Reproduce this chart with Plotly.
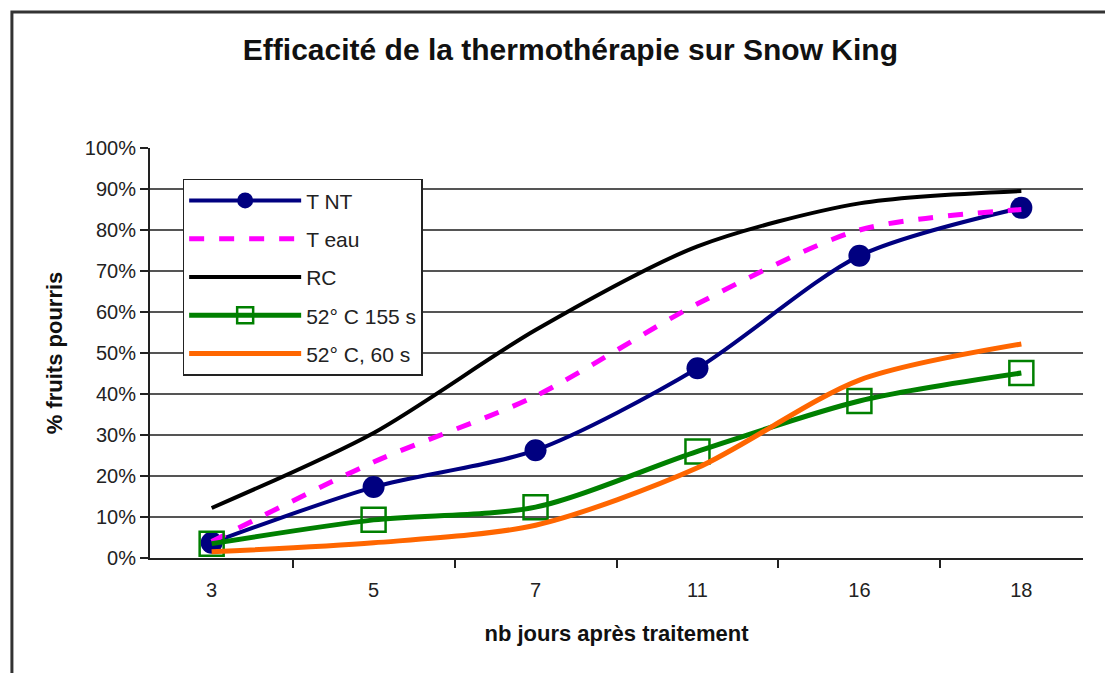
import plotly.graph_objects as go

days = ["3", "5", "7", "11", "16", "18"]
t_nt = [0.037, 0.173, 0.263, 0.463, 0.737, 0.854]
t_eau = [0.04, 0.234, 0.395, 0.62, 0.80, 0.85]
rc = [0.122, 0.305, 0.556, 0.76, 0.865, 0.895]
c155 = [0.035, 0.093, 0.124, 0.26, 0.383, 0.451]
c60 = [0.015, 0.037, 0.08, 0.22, 0.434, 0.522]
yticks = [0, 0.1, 0.2, 0.3, 0.4, 0.5, 0.6, 0.7, 0.8, 0.9, 1.0]
ytick_labels = ["0%", "10%", "20%", "30%", "40%", "50%", "60%", "70%", "80%", "90%", "100%"]

FONT = "Liberation Sans, Arial, sans-serif"

fig = go.Figure()
fig.add_trace(go.Scatter(x=days, y=t_nt, name="T NT", mode="lines+markers", legendgroup="a",
                         line=dict(color="#000080", width=4, shape="spline", smoothing=0.8),
                         marker=dict(symbol="circle", size=22, color="#000080")))
fig.add_trace(go.Scatter(x=days, y=t_eau, name="T eau", mode="lines", legendgroup="b",
                         line=dict(color="#FF00FF", width=5, dash="dash", shape="spline", smoothing=0.8)))
fig.add_trace(go.Scatter(x=days, y=rc, name="RC", mode="lines", legendgroup="c",
                         line=dict(color="#000000", width=4, shape="spline", smoothing=0.8)))
fig.add_trace(go.Scatter(x=days, y=c155, name="52° C 155 s", mode="lines+markers", legendgroup="d",
                         line=dict(color="#008000", width=5, shape="spline", smoothing=0.8),
                         marker=dict(symbol="square-open", size=24, color="#008000", line=dict(width=2.5))))
fig.add_trace(go.Scatter(x=days, y=c60, name="52° C, 60 s", mode="lines", legendgroup="e",
                         line=dict(color="#FF6600", width=5, shape="spline", smoothing=0.8)))

fig.update_layout(
    width=1105, height=665,
    margin=dict(l=142, r=30, t=140, b=115),
    paper_bgcolor="white", plot_bgcolor="white",
    font=dict(family=FONT, size=20, color="#222"),
    title=dict(text="<b>Efficacité de la thermothérapie sur Snow King</b>",
               x=0.509, xanchor="center", y=0.937, yanchor="middle",
               font=dict(family=FONT, size=30, color="#111")),
    showlegend=True,
    legend=dict(x=0.035, y=0.925, xanchor="left", yanchor="top",
                bgcolor="white", bordercolor="#222", borderwidth=1.5,
                font=dict(family=FONT, size=21, color="#222"),
                itemwidth=112, tracegroupgap=8, traceorder="grouped"),
    xaxis=dict(type="category", showline=True, linecolor="#222", linewidth=2,
               ticks="outside", ticklen=8, tickwidth=2, tickcolor="#222",
               tickson="boundaries", showgrid=False, ticklabelstandoff=13,
               tickfont=dict(family=FONT, size=20, color="#222"),
               title=dict(text="<b>nb jours après traitement</b>", standoff=26,
                          font=dict(family=FONT, size=22, color="#111"))),
    yaxis=dict(range=[0, 1.0], tickvals=yticks, ticktext=ytick_labels,
               showline=True, linecolor="#222", linewidth=2,
               ticks="outside", ticklen=8, tickwidth=2, tickcolor="#222",
               showgrid=True, gridcolor="#555", gridwidth=2, zeroline=False,
               tickfont=dict(family=FONT, size=20, color="#222"),
               title=dict(text="<b>% fruits pourris</b>", standoff=16,
                          font=dict(family=FONT, size=22, color="#111"))),
)

fig.add_shape(type="rect", xref="paper", yref="paper",
              x0=-0.148, x1=1.2, y0=-0.6, y1=1.332,
              line=dict(color="#333", width=3), fillcolor="rgba(0,0,0,0)", layer="above")

fig.write_html("out.html")
